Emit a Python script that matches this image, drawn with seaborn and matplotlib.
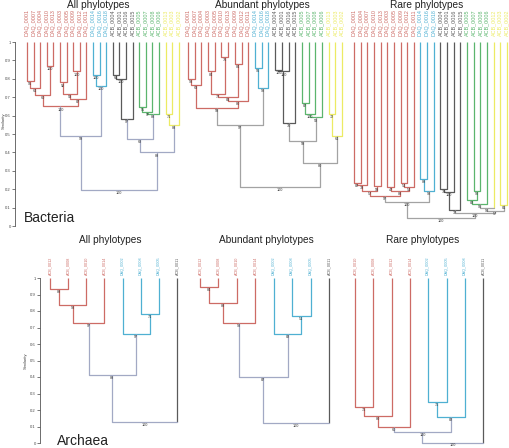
import matplotlib
matplotlib.use("Agg")
import matplotlib.pyplot as plt
import seaborn as sns


# ==========================================
# DATA
# ==========================================

# leaf labels / colour groups, left to right
bac_all_labels = [
    "DAQ_0001", "DAQ_0007", "DAQ_0004", "DAQ_0010", "DAQ_0013",
    "DAQ_0003", "DAQ_0005", "DAQ_0009", "DAQ_0012", "DAQ_0011",
    "DAQ_0014", "DAQ_0016", "DAQ_0018",
    "ACB_0004", "ACB_0001", "ACB_0016", "ACB_0015",
    "ACB_0005", "ACB_0007", "ACB_0008", "ACB_0006",
    "ACB_0013", "ACB_0003", "ACB_0002",
]
bac_abu_labels = [
    "DAQ_0001", "DAQ_0007", "DAQ_0004", "DAQ_0003", "DAQ_0005",
    "DAQ_0010", "DAQ_0013", "DAQ_0009", "DAQ_0012", "DAQ_0011",
    "DAQ_0014", "DAQ_0016", "DAQ_0018",
    "ACB_0004", "ACB_0001", "ACB_0016", "ACB_0015",
    "ACB_0005", "ACB_0007", "ACB_0008", "ACB_0006",
    "ACB_0013", "ACB_0003", "ACB_0002",
]
bac_rare_labels = [
    "DAQ_0001", "DAQ_0004", "DAQ_0007", "DAQ_0010", "DAQ_0013",
    "DAQ_0003", "DAQ_0005", "DAQ_0009", "DAQ_0012", "DAQ_0011",
    "DAQ_0014", "DAQ_0016", "DAQ_0018",
    "ACB_0004", "ACB_0001", "ACB_0016", "ACB_0015",
    "ACB_0005", "ACB_0007", "ACB_0008", "ACB_0006",
    "ACB_0012", "ACB_0003", "ACB_0002",
]
bac_groups = [
    "red", "red", "red", "red", "red", "red", "red", "red", "red", "red",
    "blue", "blue", "blue",
    "black", "black", "black", "black",
    "green", "green", "green", "green",
    "yellow", "yellow", "yellow",
]

arc_all_labels = ["ACB_0012", "ACB_0008", "ACB_0010", "ACB_0014",
                  "DAQ_0002", "DAQ_0008", "DAQ_0005", "ACB_0011"]
arc_abu_labels = ["ACB_0012", "ACB_0008", "ACB_0010", "ACB_0014",
                  "DAQ_0002", "DAQ_0008", "DAQ_0005", "ACB_0011"]
arc_rare_labels = ["ACB_0010", "ACB_0008", "ACB_0012", "ACB_0014",
                   "DAQ_0002", "DAQ_0005", "DAQ_0008", "ACB_0011"]
arc_groups = ["red", "red", "red", "red", "blue", "blue", "blue", "black"]

# merges: (left node, right node, similarity, bootstrap)
# nodes 0..n-1 are leaves, node n+k is the k-th merge
bac_all_merges = [
    (0, 1, 0.79, 95), (24, 2, 0.75, 64), (3, 4, 0.87, 100), (25, 26, 0.71, 60),
    (5, 6, 0.78, 92), (7, 8, 0.84, 100), (28, 29, 0.72, 58), (30, 9, 0.69, 87),
    (27, 31, 0.65, 100),
    (10, 11, 0.82, 100), (33, 12, 0.76, 100),
    (13, 14, 0.82, 66), (35, 15, 0.80, 100), (36, 16, 0.58, 97),
    (17, 18, 0.645, 95), (38, 19, 0.62, 97), (39, 20, 0.61, 88),
    (21, 22, 0.61, 71), (41, 23, 0.55, 88),
    (32, 34, 0.49, 99), (37, 40, 0.475, 68), (44, 42, 0.40, 89),
    (43, 45, 0.195, 100),
]
bac_abu_merges = [
    (0, 1, 0.80, 93), (24, 2, 0.765, 63), (3, 4, 0.84, 84), (5, 6, 0.92, 76),
    (7, 8, 0.88, 84), (26, 27, 0.72, 77), (29, 28, 0.70, 81), (30, 9, 0.68, 80),
    (25, 31, 0.64, 59),
    (10, 11, 0.86, 95), (33, 12, 0.75, 98),
    (13, 14, 0.85, 100), (35, 15, 0.84, 100), (36, 16, 0.56, 70),
    (17, 18, 0.67, 87), (38, 19, 0.61, 100), (39, 20, 0.59, 58),
    (21, 22, 0.61, 72), (41, 23, 0.49, 64),
    (32, 34, 0.55, 97), (37, 40, 0.46, 59), (44, 42, 0.345, 80),
    (43, 45, 0.21, 100),
]
bac_rare_merges = [
    (0, 1, 0.235, 82), (24, 2, 0.225, 33), (3, 4, 0.215, 59), (25, 26, 0.19, 57),
    (5, 6, 0.213, 47), (7, 8, 0.235, 54), (29, 9, 0.213, 54), (28, 30, 0.19, 88),
    (27, 31, 0.164, 97),
    (10, 11, 0.257, 89), (33, 12, 0.19, 98),
    (13, 14, 0.20, 70), (35, 15, 0.185, 100),
    (18, 19, 0.19, 90), (17, 37, 0.14, 82), (38, 20, 0.12, 95), (39, 21, 0.10, 96),
    (22, 23, 0.115, 81), (40, 41, 0.082, 57),
    (36, 16, 0.088, 37), (43, 42, 0.072, 100),
    (32, 34, 0.131, 100), (45, 44, 0.045, 100),
]

arc_all_merges = [
    (0, 1, 0.933, 89), (8, 2, 0.836, 93), (9, 3, 0.727, 97),
    (5, 6, 0.78, 71), (4, 11, 0.66, 97),
    (10, 12, 0.41, 89), (13, 7, 0.127, 100),
]
arc_abu_merges = [
    (0, 1, 0.945, 84), (8, 2, 0.85, 88), (9, 3, 0.73, 93),
    (5, 6, 0.77, 51), (4, 11, 0.66, 82),
    (10, 12, 0.40, 87), (13, 7, 0.12, 100),
]
arc_rare_merges = [
    (0, 1, 0.218, 75), (8, 2, 0.164, 80), (9, 3, 0.097, 60),
    (4, 5, 0.248, 75), (11, 6, 0.158, 82),
    (10, 12, 0.067, 100), (13, 7, 0.003, 100),
]

y_ticks = [0, 0.1, 0.2, 0.3, 0.4, 0.5, 0.6, 0.7, 0.8, 0.9, 1]
y_tick_labels = ["0", "0.1", "0.2", "0.3", "0.4", "0.5", "0.6", "0.7", "0.8", "0.9", "1"]


# ==========================================
# STYLE
# ==========================================

sns.set_style("white")
plt.rcParams["font.family"] = ["Liberation Sans", "DejaVu Sans"]

palette = {
    "red": "#cd6b65",
    "blue": "#4fb0d2",
    "black": "#5a5a5a",
    "green": "#5bb56d",
    "yellow": "#eceb63",
}
link_bluegray = "#a2a9c4"
link_gray = "#a3a3a3"

W, H = 510, 448
fig = plt.figure(figsize=(W / 100, H / 100), dpi=100)


def add_panel(left_px, right_px, top_px, bottom_px, leaf0_px, step_px):
    ax = fig.add_axes([left_px / W, 1 - bottom_px / H,
                       (right_px - left_px) / W, (bottom_px - top_px) / H])
    ax.set_xlim((left_px - leaf0_px) / step_px, (right_px - leaf0_px) / step_px)
    ax.set_ylim(0, 1)
    ax.patch.set_alpha(0)
    for s in ["top", "right", "bottom", "left"]:
        ax.spines[s].set_visible(False)
    ax.set_xticks([])
    ax.set_yticks([])
    return ax


def draw_tree(ax, labels, groups, merges, link_color, label_size, label_gap):
    n = len(labels)
    xs = list(range(n))
    ys = [1.0] * n
    mono = list(groups)

    for i, lab in enumerate(labels):
        ax.text(i, 1 + label_gap, lab, rotation=90, ha="center", va="bottom",
                fontsize=label_size, color=palette[groups[i]], clip_on=False)

    for a, b, h, boot in merges:
        g = mono[a] if mono[a] == mono[b] else None
        c = palette[g] if g else link_color
        legs = []
        for child in (a, b):
            if g is None and child < n:
                legs.append(palette[groups[child]])
            else:
                legs.append(c)
        ax.plot([xs[a], xs[a]], [ys[a], h], color=legs[0], lw=0.9,
                solid_capstyle="butt", clip_on=False)
        ax.plot([xs[b], xs[b]], [ys[b], h], color=legs[1], lw=0.9,
                solid_capstyle="butt", clip_on=False)
        ax.plot([xs[a], xs[b]], [h, h], color=c, lw=0.9, clip_on=False)
        xm = (xs[a] + xs[b]) / 2
        ax.text(xm, h - 0.006, str(boot), ha="center", va="top",
                fontsize=2.7, color="#333333", clip_on=False)
        xs.append(xm)
        ys.append(h)
        mono.append(g)


def add_y_axis(ax, label_x, label_y):
    ax.spines["left"].set_visible(True)
    ax.spines["left"].set_color("#555555")
    ax.spines["left"].set_linewidth(0.6)
    ax.set_yticks(y_ticks)
    ax.set_yticklabels(y_tick_labels)
    ax.tick_params(axis="y", left=True, length=2, width=0.5, pad=1,
                   labelsize=3, colors="#444444")
    ax.set_ylabel("Similarity", fontsize=3, color="#444444")
    ax.yaxis.set_label_coords(label_x, label_y)


# ==========================================
# BACTERIA
# ==========================================

ax1 = add_panel(15, 183, 42, 226, 27, 6.6)
draw_tree(ax1, bac_all_labels, bac_groups, bac_all_merges, link_bluegray, 3.9, 0.033)
add_y_axis(ax1, -0.055, 0.57)

ax2 = add_panel(184, 346, 42, 226, 188, 6.7)
draw_tree(ax2, bac_abu_labels, bac_groups, bac_abu_merges, link_gray, 3.9, 0.033)

ax3 = add_panel(348, 510, 42, 226, 354, 6.65)
draw_tree(ax3, bac_rare_labels, bac_groups, bac_rare_merges, link_gray, 3.9, 0.033)


# ==========================================
# ARCHAEA
# ==========================================

ax4 = add_panel(40, 186, 278, 443, 50, 18.14)
draw_tree(ax4, arc_all_labels, arc_groups, arc_all_merges, link_bluegray, 2.7, 0.018)
add_y_axis(ax4, -0.085, 0.5)

ax5 = add_panel(190, 340, 278, 443, 200, 18.43)
draw_tree(ax5, arc_abu_labels, arc_groups, arc_abu_merges, link_bluegray, 2.7, 0.018)

ax6 = add_panel(345, 500, 278, 443, 355, 18.3)
draw_tree(ax6, arc_rare_labels, arc_groups, arc_rare_merges, link_bluegray, 2.7, 0.018)


# ==========================================
# TITLES
# ==========================================

def fig_text(x_px, y_px, s, size, ha="center"):
    fig.text(x_px / W, 1 - y_px / H, s, fontsize=size, ha=ha, va="center",
             color="#222222")


fig_text(98, 5, "All phylotypes", 7.3)
fig_text(262, 5, "Abundant phylotypes", 7.3)
fig_text(427, 5, "Rare phylotypes", 7.3)
fig_text(110, 240, "All phylotypes", 7.3)
fig_text(266, 240, "Abundant phylotypes", 7.3)
fig_text(423, 240, "Rare phylotypes", 7.3)
fig_text(24, 218, "Bacteria", 10, ha="left")
fig_text(57, 441, "Archaea", 10, ha="left")

fig.savefig("out.png", dpi=100)
plt.close(fig)
